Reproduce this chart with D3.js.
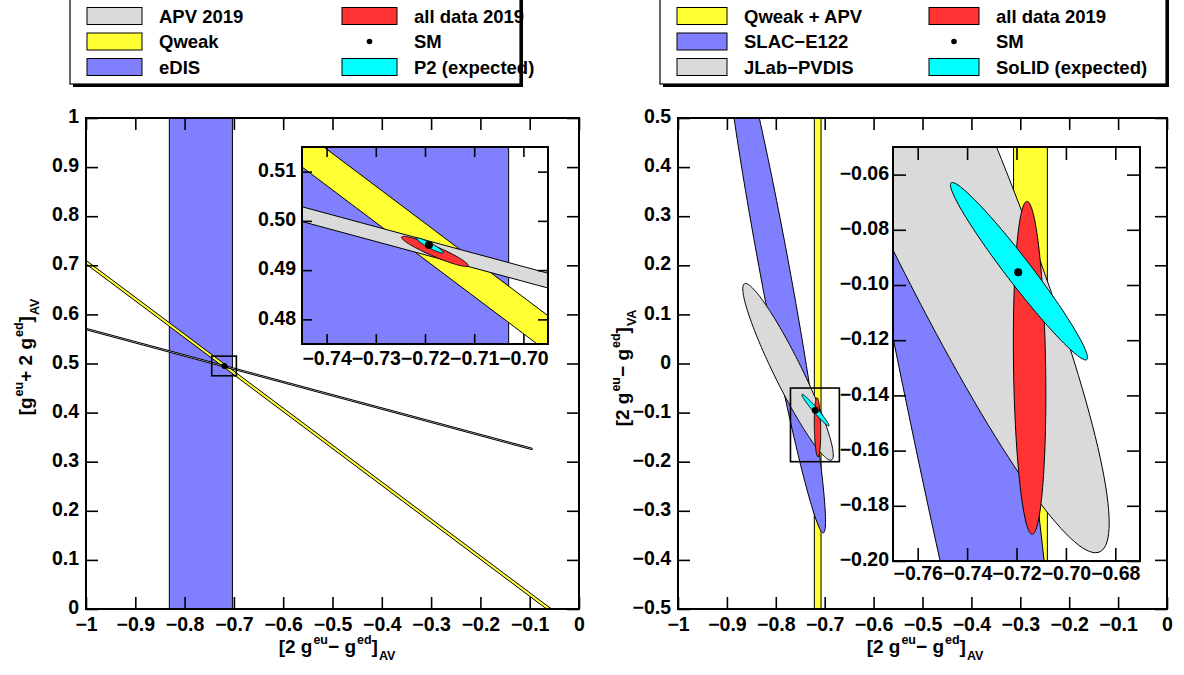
<!DOCTYPE html>
<html>
<head>
<meta charset="utf-8">
<script src="https://cdn.jsdelivr.net/npm/d3@7"></script>
<style>
  body { margin: 0; background: #fff; }
  text { font-family: "Liberation Sans", Arial, Helvetica, sans-serif; font-weight: bold; }
</style>
</head>
<body>
<div id="chart"></div>
<script>
// ---------------- data ----------------
// left figure: axial-vector couplings
const leftXTicks = [-1, -0.9, -0.8, -0.7, -0.6, -0.5, -0.4, -0.3, -0.2, -0.1, 0];
const leftXTickLabels = ["−1", "−0.9", "−0.8", "−0.7", "−0.6", "−0.5", "−0.4", "−0.3", "−0.2", "−0.1", "0"];
const leftYTicks = [0, 0.1, 0.2, 0.3, 0.4, 0.5, 0.6, 0.7, 0.8, 0.9, 1];
const leftYTickLabels = ["0", "0.1", "0.2", "0.3", "0.4", "0.5", "0.6", "0.7", "0.8", "0.9", "1"];
const leftInsetXDomain = [-0.745, -0.695];
const leftInsetYDomain = [0.475, 0.515];
const leftInsetXTicks = [-0.74, -0.73, -0.72, -0.71, -0.70];
const leftInsetXTickLabels = ["−0.74", "−0.73", "−0.72", "−0.71", "−0.70"];
const leftInsetYTicks = [0.48, 0.49, 0.50, 0.51];
const leftInsetYTickLabels = ["0.48", "0.49", "0.50", "0.51"];

const eDIS = [-0.831, -0.703];                          // x range of the band
const apv2019 = [[-1, 0.5717], [-0.095, 0.3274], [-0.095, 0.3244], [-1, 0.5687]];
const qweak = [[-1, 0.7101], [0, -0.0419], [0, -0.0493], [-1, 0.7027]];
// ellipses: centre c, conjugate half axes a and b
const allData2019L = { c: [-0.718, 0.4938], a: [0.00675, -0.0029], b: [-0.0004, -0.00093] };
const p2Expected = { c: [-0.719, 0.495], a: [0.0027, -0.00146], b: [-0.00024, -0.00045] };
const smL = [-0.7192, 0.4951];

// right figure
const rightXTicks = leftXTicks;
const rightXTickLabels = leftXTickLabels;
const rightYTicks = [-0.5, -0.4, -0.3, -0.2, -0.1, 0, 0.1, 0.2, 0.3, 0.4, 0.5];
const rightYTickLabels = ["−0.5", "−0.4", "−0.3", "−0.2", "−0.1", "0", "0.1", "0.2", "0.3", "0.4", "0.5"];
const rightInsetXDomain = [-0.77, -0.67];
const rightInsetYDomain = [-0.2, -0.05];
const rightInsetXTicks = [-0.76, -0.74, -0.72, -0.70, -0.68];
const rightInsetXTickLabels = ["−0.76", "−0.74", "−0.72", "−0.70", "−0.68"];
const rightInsetYTicks = [-0.20, -0.18, -0.16, -0.14, -0.12, -0.10, -0.08, -0.06];
const rightInsetYTickLabels = ["−0.20", "−0.18", "−0.16", "−0.14", "−0.12", "−0.10", "−0.08", "−0.06"];

const qweakApv = [-0.7212, -0.7075];                   // x range of the band
const slacE122 = { c: [-0.804, 0.2], a: [0.101, -0.545], b: [0.031, 0] };
const jlabPvdis = { c: [-0.775, -0.017], a: [0.087, -0.18], b: [0.0315, 0] };
const allData2019R = { c: [-0.7147, -0.130], a: [0.00105, -0.0603], b: [0.0065, 0] };
const solidExpected = { c: [-0.719, -0.095], a: [0.027, -0.03215], b: [0.0064, 0] };
const smR = [-0.7193, -0.0954];

// legends
const leftLegendLabels = [["APV 2019", "Qweak", "eDIS"], ["all data 2019", "SM", "P2 (expected)"]];
const rightLegendLabels = [["Qweak + APV", "SLAC−E122", "JLab−PVDIS"], ["all data 2019", "SM", "SoLID (expected)"]];

// colours
const GREY = "#dadada", YELLOW = "#ffff33", BLUE = "#8080ff", RED = "#ff3333", CYAN = "#00ffff";
const leftLegendColors = [[GREY, YELLOW, BLUE], [RED, null, CYAN]];
const rightLegendColors = [[YELLOW, BLUE, GREY], [RED, null, CYAN]];

// ---------------- drawing ----------------
const svg = d3.select("#chart").append("svg")
    .attr("width", 1184)
    .attr("height", 675);

const line = d3.line();

function ellipsePoints(e) {
  return d3.range(0, 361, 2).map(function(deg) {
    const t = deg * Math.PI / 180;
    return [e.c[0] + Math.cos(t) * e.a[0] + Math.sin(t) * e.b[0],
            e.c[1] + Math.cos(t) * e.a[1] + Math.sin(t) * e.b[1]];
  });
}

function shape(g, x, y, pts, fill, sw) {
  g.append("path")
    .attr("d", line(pts.map(p => [x(p[0]), y(p[1])])) + "Z")
    .attr("fill", fill)
    .attr("stroke", "#000")
    .attr("stroke-width", sw || 1);
}

function vBand(g, x, y, xr, fill) {
  const yd = y.domain();
  g.append("rect")
    .attr("x", x(xr[0]))
    .attr("width", x(xr[1]) - x(xr[0]))
    .attr("y", y(yd[1]) - 5)
    .attr("height", y(yd[0]) - y(yd[1]) + 10)
    .attr("fill", fill)
    .attr("stroke", "#000")
    .attr("stroke-width", 1);
}

function dot(g, x, y, p, r) {
  g.append("circle").attr("cx", x(p[0])).attr("cy", y(p[1])).attr("r", r).attr("fill", "#000");
}

let clipCount = 0;
function panel(box, xDomain, yDomain, ticks, tickLen, pad, layers) {
  const x = d3.scaleLinear().domain(xDomain).range([box.x0, box.x1]);
  const y = d3.scaleLinear().domain(yDomain).range([box.y1, box.y0]);
  const id = "clip" + (clipCount++);
  svg.append("clipPath").attr("id", id).append("rect")
    .attr("x", box.x0).attr("y", box.y0)
    .attr("width", box.x1 - box.x0).attr("height", box.y1 - box.y0);
  svg.append("rect")
    .attr("x", box.x0).attr("y", box.y0)
    .attr("width", box.x1 - box.x0).attr("height", box.y1 - box.y0)
    .attr("fill", "#fff");
  const g = svg.append("g").attr("clip-path", `url(#${id})`);
  layers(g, x, y);

  // ticks on all four sides, pointing inwards
  const axes = [
    [d3.axisBottom(x).tickValues(ticks.x).tickFormat((d, i) => ticks.xl[i]), `translate(0,${box.y1})`, pad + 2],
    [d3.axisTop(x).tickValues(ticks.x).tickFormat(""), `translate(0,${box.y0})`, pad],
    [d3.axisLeft(y).tickValues(ticks.y).tickFormat((d, i) => ticks.yl[i]), `translate(${box.x0},0)`, pad + 1],
    [d3.axisRight(y).tickValues(ticks.y).tickFormat(""), `translate(${box.x1},0)`, pad]
  ];
  axes.forEach(function(a, k) {
    const ag = svg.append("g")
      .attr("transform", a[1])
      .call(a[0].tickSize(-tickLen).tickPadding(a[2]));
    ag.select(".domain").remove();
    ag.selectAll("line").attr("stroke-width", 1.6);
    ag.selectAll("text").style("font-size", "19.5px").attr("fill", "#000");
    if (k === 2) ag.selectAll("text").attr("dy", "0.24em");
  });

  svg.append("rect")
    .attr("x", box.x0).attr("y", box.y0)
    .attr("width", box.x1 - box.x0).attr("height", box.y1 - box.y0)
    .attr("fill", "none")
    .attr("stroke", "#000")
    .attr("stroke-width", 2);
  return { x: x, y: y };
}

function zoomBox(p, xd, yd) {
  svg.append("rect")
    .attr("x", p.x(xd[0])).attr("y", p.y(yd[1]))
    .attr("width", p.x(xd[1]) - p.x(xd[0]))
    .attr("height", p.y(yd[0]) - p.y(yd[1]))
    .attr("fill", "none")
    .attr("stroke", "#000")
    .attr("stroke-width", 1.6);
}

function leftLayers(r) {
  return function(g, x, y) {
    vBand(g, x, y, eDIS, BLUE);
    shape(g, x, y, qweak, YELLOW);
    shape(g, x, y, apv2019, GREY);
    shape(g, x, y, ellipsePoints(allData2019L), RED);
    shape(g, x, y, ellipsePoints(p2Expected), CYAN);
    dot(g, x, y, smL, r);
  };
}

function rightLayers(r) {
  return function(g, x, y) {
    vBand(g, x, y, qweakApv, YELLOW);
    shape(g, x, y, ellipsePoints(slacE122), BLUE);
    shape(g, x, y, ellipsePoints(jlabPvdis), GREY);
    shape(g, x, y, ellipsePoints(allData2019R), RED);
    shape(g, x, y, ellipsePoints(solidExpected), CYAN);
    dot(g, x, y, smR, r);
  };
}

// left figure
const pl = panel({x0: 86, x1: 579, y0: 118, y1: 609}, [-1, 0], [0, 1],
  {x: leftXTicks, xl: leftXTickLabels, y: leftYTicks, yl: leftYTickLabels}, 12, 6, leftLayers(3));
zoomBox(pl, leftInsetXDomain, leftInsetYDomain);
panel({x0: 302, x1: 548, y0: 147, y1: 344}, leftInsetXDomain, leftInsetYDomain,
  {x: leftInsetXTicks, xl: leftInsetXTickLabels, y: leftInsetYTicks, yl: leftInsetYTickLabels}, 10, 5, leftLayers(4));

// right figure
const pr = panel({x0: 678, x1: 1167, y0: 118, y1: 609}, [-1, 0], [-0.5, 0.5],
  {x: rightXTicks, xl: rightXTickLabels, y: rightYTicks, yl: rightYTickLabels}, 12, 6, rightLayers(3.5));
zoomBox(pr, rightInsetXDomain, rightInsetYDomain);
panel({x0: 893, x1: 1140, y0: 147, y1: 561}, rightInsetXDomain, rightInsetYDomain,
  {x: rightInsetXTicks, xl: rightInsetXTickLabels, y: rightInsetYTicks, yl: rightInsetYTickLabels}, 13, 3, rightLayers(4));

// axis titles, written as one text with raised / lowered parts
function title(x, yPos, rotate, parts) {
  const t = svg.append("text")
    .attr("text-anchor", "middle")
    .attr("transform", `translate(${x},${yPos})` + (rotate ? " rotate(-90)" : ""))
    .style("font-size", "19px");
  let level = 0;
  parts.forEach(function(p) {
    const target = p[1] === "sup" ? -9 : p[1] === "sub" ? 7 : 0;
    t.append("tspan")
      .attr("dy", target - level)
      .attr("dx", p[1] ? 1 : 0)
      .style("font-size", p[1] ? "12.5px" : "19px")
      .text(p[0]);
    level = target;
  });
}

const avTitle = [["[2 g"], ["eu", "sup"], ["− g"], ["ed", "sup"], ["]"], ["AV", "sub"]];
title(337, 653, false, avTitle);
title(925, 653, false, avTitle);
title(32, 357, true, [["[g"], ["eu", "sup"], ["+ 2 g"], ["ed", "sup"], ["]"], ["AV", "sub"]]);
title(629, 368, true, [["[2 g"], ["eu", "sup"], ["− g"], ["ed", "sup"], ["]"], ["VA", "sub"]]);

// legends
function legend(box, labels, colors, swatchW, col2) {
  svg.append("rect")
    .attr("x", box.x0 + 3).attr("y", box.y0 + 3)
    .attr("width", box.x1 - box.x0).attr("height", box.y1 - box.y0)
    .attr("fill", "#000");
  svg.append("rect")
    .attr("x", box.x0).attr("y", box.y0)
    .attr("width", box.x1 - box.x0).attr("height", box.y1 - box.y0)
    .attr("fill", "#fff")
    .attr("stroke", "#000")
    .attr("stroke-width", 1.2);
  const rows = [16, 41.5, 67];
  [box.x0 + 17, col2].forEach(function(sx, c) {
    labels[c].forEach(function(lab, i) {
      const col = colors[c][i];
      if (col) {
        svg.append("rect")
          .attr("x", sx).attr("y", rows[i] - 8.5)
          .attr("width", swatchW).attr("height", 17)
          .attr("fill", col)
          .attr("stroke", "#000")
          .attr("stroke-width", 1);
      } else {
        svg.append("circle").attr("cx", sx + swatchW / 2).attr("cy", rows[i]).attr("r", 2.8).attr("fill", "#000");
      }
      svg.append("text")
        .attr("x", sx + swatchW + 17)
        .attr("y", rows[i])
        .attr("dy", "0.36em")
        .style("font-size", "18.5px")
        .text(lab);
    });
  });
}

legend({x0: 70, x1: 520, y0: -3, y1: 84}, leftLegendLabels, leftLegendColors, 55, 342);
legend({x0: 660, x1: 1166, y0: -3, y1: 84}, rightLegendLabels, rightLegendColors, 50, 929);
</script>
</body>
</html>
